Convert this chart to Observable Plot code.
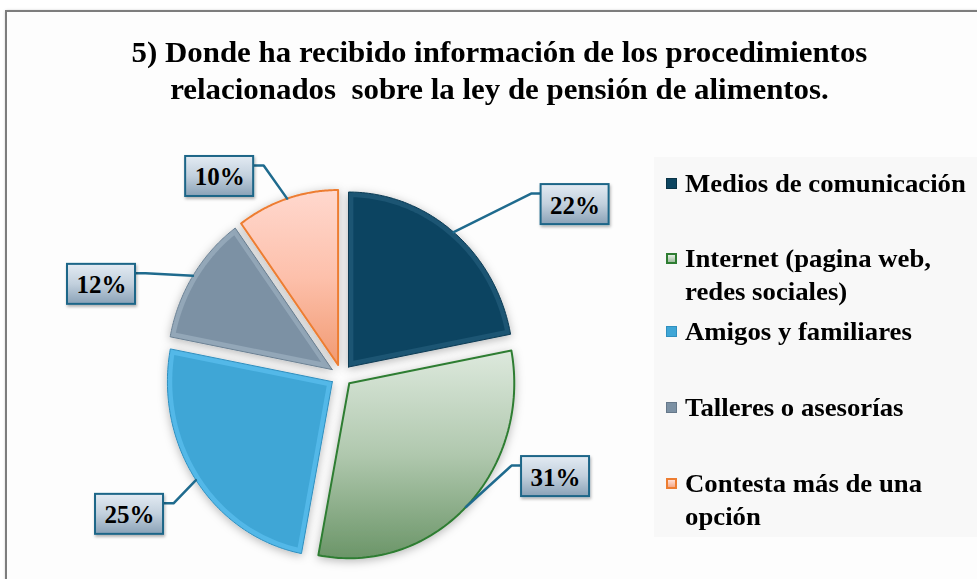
<!DOCTYPE html>
<html>
<head>
<meta charset="utf-8">
<script src="https://cdn.jsdelivr.net/npm/d3@7"></script>
<script src="https://cdn.jsdelivr.net/npm/@observablehq/plot@0.6"></script>
<style>
  html, body { margin: 0; padding: 0; background: #ffffff; width: 977px; height: 579px; overflow: hidden; }
  #frame { position: absolute; left: 5px; top: 10px; width: 1000px; height: 620px;
           border: 2px solid #7d7d7d; background: #fdfdfd; box-shadow: 1px 1px 3px rgba(0,0,0,0.35); }
  #chart { position: absolute; left: 0; top: 0; width: 977px; height: 579px; }
  #title { height: 120px; box-sizing: border-box; padding-top: 34px; text-align: center;
           padding-left: 22px; transform: scaleX(1.065); transform-origin: 500px 0;
           font-family: "Liberation Serif", "Times New Roman", serif; font-weight: bold;
           font-size: 29px; line-height: 37px; color: #000; }
  #plot { position: relative; width: 977px; height: 459px; }
  #plot svg { position: absolute; left: 0; top: 0; overflow: visible; }
  #legend { position: absolute; left: 654px; top: 37px; width: 323px; height: 380px; background: #f8f8f8; }
  .item { position: absolute; left: 12px; font-family: "Liberation Serif", "Times New Roman", serif;
          font-weight: bold; font-size: 25px; line-height: 33px; color: #000; white-space: pre; }
  .sw { position: absolute; left: 0; top: 11px; width: 11px; height: 11px; box-sizing: border-box; }
  .txt { position: absolute; left: 19px; top: 0; transform: scaleX(1.07); transform-origin: 0 0; }
</style>
</head>
<body>
<div id="frame"></div>
<div id="chart">
  <div id="title">5) Donde ha recibido información de los procedimientos<br>relacionados&nbsp; sobre la ley de pensión de alimentos.</div>
  <div id="plot"><div id="legend"></div></div>
</div>
<script>
// ---------------- data ----------------
const categories = [
  "Medios de comunicación",
  "Internet (pagina web,\nredes sociales)",
  "Amigos y familiares",
  "Talleres o asesorías",
  "Contesta más de una\nopción"
];
const values = [22, 31, 25, 12, 10];
const percentLabels = ["22%", "31%", "25%", "12%", "10%"];

// ---------------- styles / layout ----------------
const sliceStyles = [
  {rim: "#1a5473", fill: "#0c4461", stroke: "#0a3a53", sw: 1, bevel: true},
  {rim: null, fill: "url(#gInternet)", stroke: "#2e7d32", sw: 2, bevel: false},
  {rim: "#52b8e8", fill: "#3fa6d6", stroke: "#2f8fbf", sw: 1, bevel: true},
  {rim: "#93a7b8", fill: "#7c91a4", stroke: "#6a8093", sw: 1, bevel: true},
  {rim: null, fill: "url(#gContesta)", stroke: "#ed7d31", sw: 2, bevel: false}
];
const legendSwatch = [
  "background:#0d4560;border:1px solid #0a3346;",
  "background:linear-gradient(#e4efe4,#9dbb9c);border:2px solid #2e7d32;",
  "background:#3fa6d6;border:1px solid #2f8fbf;",
  "background:#7c91a4;border:1px solid #66788a;",
  "background:linear-gradient(#ffe0d6,#f6a988);border:2px solid #ed7d31;"
];
const legendTop = [9.5, 84.5, 157.5, 233.5, 309.5]; // px, relative to legend box
const labelLayout = [ // angular shift (deg) and radius (pie radii) of each label box centre
  {da: 15.8, r: 1.72},
  {da: -21, r: 1.42},
  {da: 2.5, r: 1.51},
  {da: -12.7, r: 1.545},
  {da: -15, r: 1.356}
];

// pixel geometry of the pie (ellipse radii) and SVG
const W = 977, H = 459;
const cxPx = 341, cyPx = 255, rx = 165, ry = 175;
const explode = 11; // px
const boxW = 68, boxH = 40;

// ---------------- geometry from data ----------------
const arcs = d3.pie().sort(null).value(d => d)(values);
const steps = 80;
const slices = [];
const inners = [];
arcs.forEach((a, i) => {
  const mid = (a.startAngle + a.endAngle) / 2;
  const ox = explode / rx * Math.sin(mid), oy = explode / ry * Math.cos(mid);
  const pts = [{x: ox, y: oy}];
  for (let k = 0; k <= steps; k++) {
    const t = a.startAngle + (a.endAngle - a.startAngle) * k / steps;
    pts.push({x: ox + Math.sin(t), y: oy + Math.cos(t)});
  }
  pts.push({x: ox, y: oy});
  slices.push(pts);
  // inner (bevel) polygon, inset ~5px
  const inset = 5 / 170;
  const half = (a.endAngle - a.startAngle) / 2;
  const vd = inset / Math.sin(Math.min(half, Math.PI / 2));
  const rho = 1 - inset;
  const dA = Math.asin(inset / rho);
  const ip = [{x: ox + vd * Math.sin(mid), y: oy + vd * Math.cos(mid)}];
  for (let k = 0; k <= steps; k++) {
    const t = a.startAngle + dA + (a.endAngle - a.startAngle - 2 * dA) * k / steps;
    ip.push({x: ox + rho * Math.sin(t), y: oy + rho * Math.cos(t)});
  }
  ip.push(ip[0]);
  inners.push(ip);
});

// labels and leaders
const kx = 1 / rx, ky = 1 / ry;
const boxes = [], leaders = [], texts = [];
arcs.forEach((a, i) => {
  const mid = (a.startAngle + a.endAngle) / 2;
  const ox = explode / rx * Math.sin(mid), oy = explode / ry * Math.cos(mid);
  const la = mid + labelLayout[i].da * Math.PI / 180;
  const lx = labelLayout[i].r * Math.sin(la), ly = labelLayout[i].r * Math.cos(la);
  const hw = boxW / 2 * kx, hh = boxH / 2 * ky;
  boxes.push({x1: lx - hw, x2: lx + hw, y1: ly - hh, y2: ly + hh});
  texts.push({x: lx, y: ly, t: percentLabels[i]});
  const ax = ox + Math.sin(mid), ay = oy + Math.cos(mid);
  const side = lx > ax ? -1 : 1;
  const ex = lx + side * hw;
  const elx = ex + side * 10 * kx;
  const ey = ly + hh - 9 * ky;
  leaders.push({i, x: ax, y: ay}, {i, x: elx, y: ey}, {i, x: ex, y: ey});
});

const marks = [];
const rimIdx = [], boxIdx = [];
slices.forEach((pts, i) => {
  const s = sliceStyles[i];
  rimIdx.push(marks.length);
  marks.push(Plot.line(pts, {x: "x", y: "y", fill: s.bevel ? s.rim : s.fill, stroke: s.stroke,
    strokeWidth: s.sw, curve: "linear"}));
  if (s.bevel) {
    marks.push(Plot.line(inners[i], {x: "x", y: "y", fill: s.fill, stroke: "none", curve: "linear"}));
  }
});
marks.push(Plot.line(leaders, {x: "x", y: "y", z: "i", stroke: "#1f6b8e", strokeWidth: 2.5, curve: "linear"}));
boxIdx.push(marks.length);
marks.push(Plot.rect(boxes, {x1: "x1", x2: "x2", y1: "y1", y2: "y2", fill: "url(#gLabel)", stroke: "#1e6688", strokeWidth: 2}));
marks.push(Plot.text(texts, {x: "x", y: "y", text: "t", fontSize: 25, fontWeight: "bold",
  fontFamily: "Liberation Serif, Times New Roman, serif", fill: "#000", dy: 1}));

const svg = Plot.plot({
  width: W, height: H, margin: 0,
  x: {domain: [-cxPx / rx, (W - cxPx) / rx], range: [0, W], axis: null},
  y: {domain: [-(H - cyPx) / ry, cyPx / ry], range: [H, 0], axis: null},
  style: {background: "transparent", overflow: "visible"},
  marks
});

const groups = Array.from(svg.children).filter(n => n.tagName.toLowerCase() === "g");
const defs = d3.select(svg).insert("defs", ":first-child");
const grad = (id, stops) => {
  const g = defs.append("linearGradient").attr("id", id).attr("x1", 0).attr("y1", 0).attr("x2", 0).attr("y2", 1);
  stops.forEach(([o, c]) => g.append("stop").attr("offset", o).attr("stop-color", c));
};
grad("gInternet", [[0, "#dde9dd"], [0.5, "#b0c8ae"], [1, "#6b9568"]]);
grad("gContesta", [[0, "#ffd8ce"], [0.5, "#fdc0ab"], [1, "#f19a72"]]);
grad("gLabel", [[0, "#e3ebf3"], [0.5, "#c2d0dd"], [1, "#8aa2b7"]]);
const f = defs.append("filter").attr("id", "shadow").attr("x", "-20%").attr("y", "-20%").attr("width", "140%").attr("height", "140%");
f.append("feDropShadow").attr("dx", 0).attr("dy", 2).attr("stdDeviation", 5).attr("flood-color", "#000").attr("flood-opacity", 0.28);
const f2 = defs.append("filter").attr("id", "shadow2").attr("x", "-20%").attr("y", "-20%").attr("width", "140%").attr("height", "140%");
f2.append("feDropShadow").attr("dx", 1).attr("dy", 2).attr("stdDeviation", 1.5).attr("flood-color", "#000").attr("flood-opacity", 0.3);
if (groups.length === marks.length) {
  rimIdx.forEach(j => groups[j].setAttribute("filter", "url(#shadow)"));
  boxIdx.forEach(j => groups[j].setAttribute("filter", "url(#shadow2)"));
}

const plotDiv = document.getElementById("plot");
plotDiv.insertBefore(svg, plotDiv.firstChild);

// legend
const legend = d3.select("#legend");
categories.forEach((c, i) => {
  const it = legend.append("div").attr("class", "item").style("top", legendTop[i] + "px");
  it.append("div").attr("class", "sw").attr("style", legendSwatch[i]);
  it.append("div").attr("class", "txt").text(c);
});
</script>
</body>
</html>
